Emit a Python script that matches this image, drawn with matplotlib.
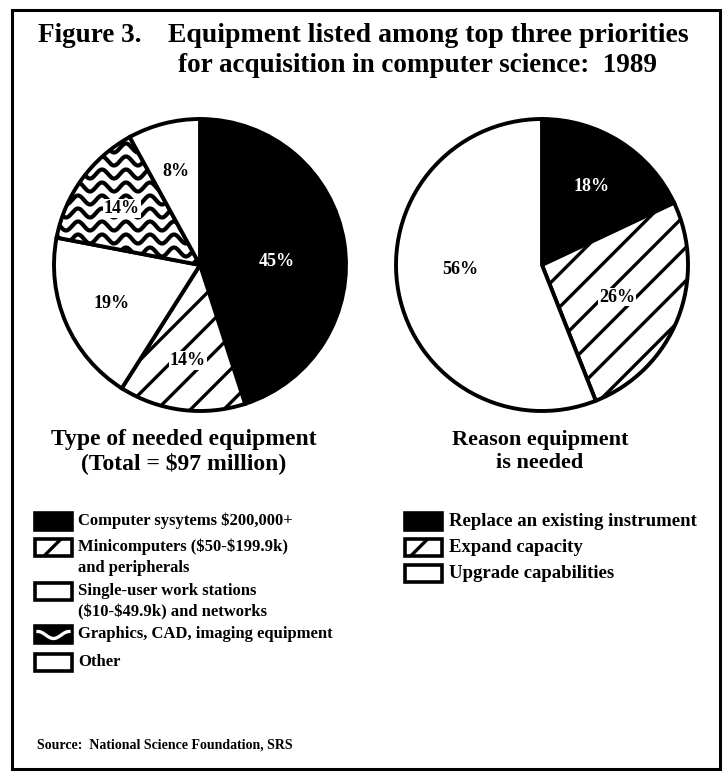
"""
Figure 3: equipment listed among top three priorities, 1989.
"""

import numpy as np
import matplotlib
matplotlib.use('Agg')
import matplotlib.pyplot as plt
from matplotlib.patches import Rectangle

W, H = 723, 773

# data
type_labels = ['Computer sysytems $200,000+',
               'Minicomputers ($50-$199.9k)\nand peripherals',
               'Single-user work stations\n($10-$49.9k) and networks',
               'Graphics, CAD, imaging equipment',
               'Other']
type_values = [45, 14, 19, 14, 8]

reason_labels = ['Replace an existing instrument',
                 'Expand capacity',
                 'Upgrade capabilities']
reason_values = [18, 26, 56]

SERIF = ['Liberation Serif', 'DejaVu Serif']
plt.rcParams['font.family'] = SERIF
plt.rcParams['font.weight'] = 'bold'
plt.rcParams['text.parse_math'] = False
plt.rcParams['hatch.linewidth'] = 2.4
plt.rcParams['hatch.color'] = 'black'


def Y(y):
    """image row -> axes y"""
    return H - y


def wave_fill(ax, patch, spacing=13, amp=4.5, wavelen=24, lw=3.0):
    """Fill a patch with clipped horizontal wavy lines."""
    bb = patch.get_path().get_extents(patch.get_transform() - ax.transData)
    xs = np.linspace(bb.x0 - 10, bb.x1 + 10, 400)
    y0 = bb.y0 - spacing
    while y0 < bb.y1 + spacing:
        ln, = ax.plot(xs, y0 + amp * np.sin(2 * np.pi * xs / wavelen),
                      color='black', lw=lw, solid_capstyle='butt', zorder=3)
        ln.set_clip_path(patch)
        y0 += spacing


fig = plt.figure(figsize=(W / 100, H / 100), dpi=100)
ax = fig.add_axes([0, 0, 1, 1])

R = 146
white_box = dict(facecolor='white', edgecolor='none', pad=0.6)

type_fc = ['black', 'white', 'white', 'white', 'white']
type_hatch = [None, '/', None, None, None]
wedges, _, pcts = ax.pie(type_values, center=(200, Y(265)), radius=R,
                         startangle=90, counterclock=False,
                         colors=type_fc, hatch=type_hatch,
                         autopct='%d%%', pctdistance=0.66,
                         wedgeprops=dict(edgecolor='black', linewidth=2.8),
                         textprops=dict(fontsize=13, fontweight='bold'))
wave_fill(ax, wedges[3])
pcts[0].set_color('white')
pcts[0].set_position((277, Y(262)))
for t in pcts:
    t.set_zorder(5)
    if t is not pcts[0]:
        t.set_bbox(white_box)

reason_fc = ['black', 'white', 'white']
reason_hatch = [None, '/', None]
w2, _, p2 = ax.pie(reason_values, center=(542, Y(265)), radius=R,
                   startangle=90, counterclock=False,
                   colors=reason_fc, hatch=reason_hatch,
                   autopct='%d%%', pctdistance=0.64,
                   wedgeprops=dict(edgecolor='black', linewidth=2.8),
                   textprops=dict(fontsize=13, fontweight='bold'))
p2[0].set_color('white')
p2[1].set_position((617, Y(297)))
p2[2].set_position((460, Y(270)))
for t in p2[1:]:
    t.set_bbox(white_box)

ax.set_xlim(0, W)
ax.set_ylim(0, H)
ax.set_aspect('equal')
ax.axis('off')

# frame
ax.add_patch(Rectangle((12, Y(769)), 708, 759, fill=False,
                       edgecolor='black', linewidth=2.2, zorder=1))

# titles
ax.text(38, Y(35), 'Figure 3.', fontsize=19.5, fontweight='bold',
        va='center', ha='left')
ax.text(168, Y(35), 'Equipment listed among top three priorities',
        fontsize=20, fontweight='bold', va='center', ha='left')
ax.text(178, Y(66), 'for acquisition in computer science:  1989',
        fontsize=19.5, fontweight='bold', va='center', ha='left')

ax.text(184, Y(440), 'Type of needed equipment', fontsize=17,
        fontweight='bold', ha='center', va='center')
ax.text(184, Y(463), '(Total = $97 million)', fontsize=17,
        fontweight='bold', ha='center', va='center')
ax.text(540, Y(440), 'Reason equipment', fontsize=16,
        fontweight='bold', ha='center', va='center')
ax.text(540, Y(463), 'is needed', fontsize=16,
        fontweight='bold', ha='center', va='center')

# left legend
box_w, box_h = 37, 17
left_rows = [521, 547, 591, 634, 662]
for i, (lab, yy) in enumerate(zip(type_labels, left_rows)):
    fc = 'black' if i in (0, 3) else 'white'
    hatch = '/' if i == 1 else None
    ax.add_patch(Rectangle((35, Y(yy + box_h / 2)), box_w, box_h,
                           facecolor=fc, edgecolor='black', linewidth=2.6,
                           hatch=hatch))
    if i == 3:
        xs = np.linspace(38, 69, 100)
        ax.plot(xs, Y(yy) + 3.5 * np.cos(2 * np.pi * (xs - 38) / 31) - 1,
                color='white', lw=2.4)
    lines = lab.split('\n')
    for k, line in enumerate(lines):
        ax.text(78, Y(yy + 21 * k), line, fontsize=12, fontweight='bold',
                ha='left', va='center')

# right legend
right_rows = [521, 547, 573]
for i, (lab, yy) in enumerate(zip(reason_labels, right_rows)):
    fc = 'black' if i == 0 else 'white'
    hatch = '/' if i == 1 else None
    ax.add_patch(Rectangle((405, Y(yy + box_h / 2)), box_w, box_h,
                           facecolor=fc, edgecolor='black', linewidth=2.6,
                           hatch=hatch))
    ax.text(449, Y(yy), lab, fontsize=13.5, fontweight='bold', ha='left',
            va='center')

ax.text(37, Y(745), 'Source:  National Science Foundation, SRS',
        fontsize=10, fontweight='bold', ha='left', va='center')

fig.savefig('out.png', dpi=100)
